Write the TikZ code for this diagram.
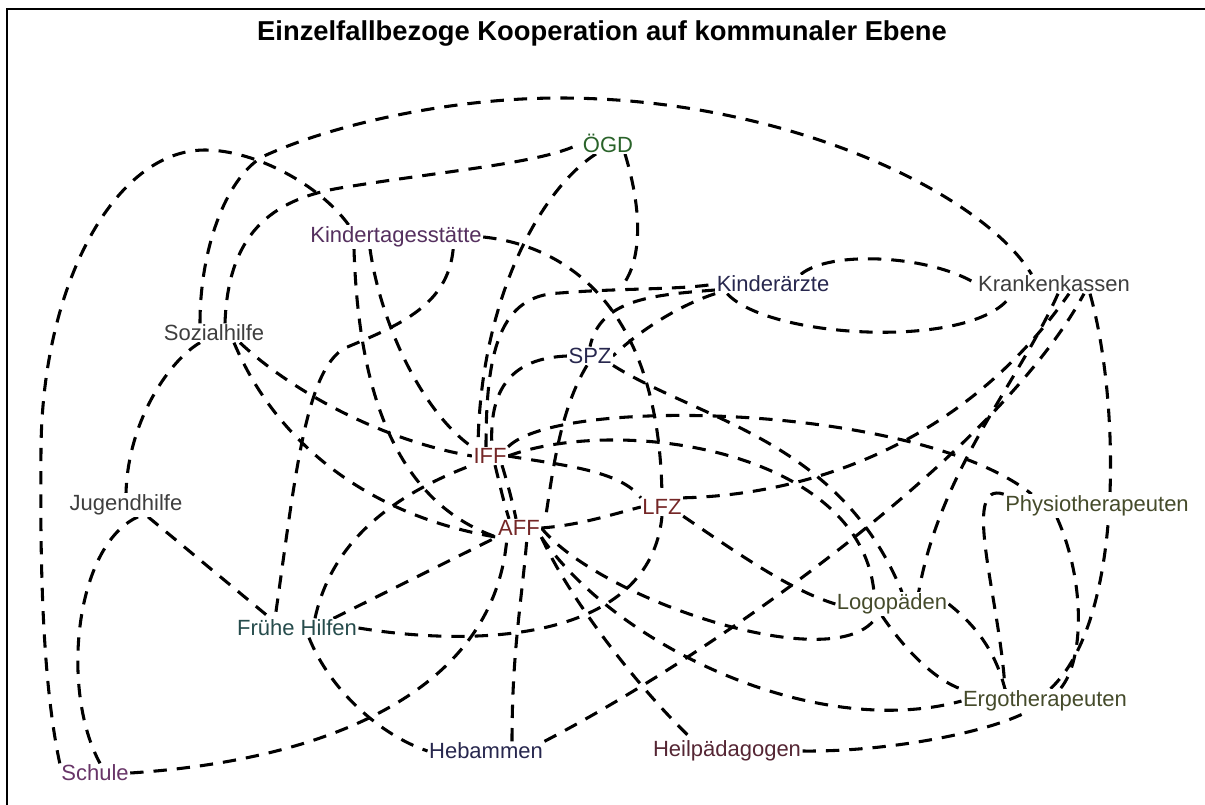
\documentclass[tikz,border=0pt]{standalone}
\usepackage{fontspec}
\setmainfont{Liberation Sans}
\usetikzlibrary{backgrounds,calc}
\definecolor{cgreen}{HTML}{2A632A}
\definecolor{cpurple}{HTML}{55305F}
\definecolor{cnavy}{HTML}{27274E}
\definecolor{cgray}{HTML}{3E3E3E}
\definecolor{cred}{HTML}{742626}
\definecolor{colive}{HTML}{454B2B}
\definecolor{cteal}{HTML}{264C4C}
\definecolor{cheil}{HTML}{552634}
\definecolor{cschule}{HTML}{683568}
\begin{document}
\begin{tikzpicture}[x=0.75pt,y=-0.75pt,
  lbl/.style={inner sep=1pt, fill=white, font=\fontsize{16.5}{18}\selectfont},
  con/.style={line width=2.3pt, dash pattern=on 10pt off 7.5pt},
  frame/.style={line width=2pt}]
\useasboundingbox (0,0) rectangle (1205,805);
\draw[frame] (7,805) -- (7,9) -- (1205,9);
\node[font=\bfseries\fontsize{20.5}{24}\selectfont] (title) at (602,33) {Einzelfallbezoge Kooperation auf kommunaler Ebene};
% labels
\node[lbl,text=cgreen]  (OGD)    at (608,143) {ÖGD};
\node[lbl,text=cpurple] (Kita)   at (396,237) {Kindertagesstätte};
\node[lbl,text=cnavy]   (Kind)   at (773,284) {Kinderärzte};
\node[lbl,text=cgray]   (KK)     at (1054,284) {Krankenkassen};
\node[lbl,text=cgray]   (Soz)    at (214,333) {Sozialhilfe};
\node[lbl,text=cnavy]   (SPZ)    at (590,356) {SPZ};
\node[lbl,text=cred]    (IFF)    at (490,456) {IFF};
\node[lbl,text=cgray]   (Jug)    at (126,505) {Jugendhilfe};
\node[lbl,text=cred]    (LFZ)    at (662,507) {LFZ};
\node[lbl,text=cred]    (AFF)    at (519,528) {AFF};
\node[lbl,text=colive]  (Physio) at (1097,506) {Physiotherapeuten};
\node[lbl,text=cteal]   (FH)     at (297,628) {Frühe Hilfen};
\node[lbl,text=colive]  (Logo)   at (892,604) {Logopäden};
\node[lbl,text=colive]  (Ergo)   at (1045,701) {Ergotherapeuten};
\node[lbl,text=cnavy]   (Heb)    at (486,751) {Hebammen};
\node[lbl,text=cheil]   (Heil)   at (727,751) {Heilpädagogen};
\node[lbl,text=cschule] (Schule) at (95,773) {Schule};
\coordinate (j1) at (622,286);
\begin{scope}[on background layer]
% outer left arc
\draw[con] (Schule.north west) .. controls (42,680) and (40,560) .. (41,450) .. controls (42,284) and (115,150) .. (205,150) .. controls (255,150) and (320,185) .. ($(Kita.north west)+(40,0)$);
% top arc
\draw[con] ($(Soz.north)+(-14,0)$) .. controls (200,250) and (225,180) .. (262,157) .. controls (330,125) and (450,98) .. (560,98) .. controls (780,98) and (980,190) .. ($(KK.north west)+(55,0)$);
\draw[con] ($(Soz.north)+(11,0)$) .. controls (228,235) and (270,200) .. (340,188) .. controls (450,170) and (545,163) .. (OGD.west);
\draw[con] ($(Soz.south)+(-14,0)$) .. controls (170,360) and (128,420) .. (Jug.north);
\draw[con] ($(Jug.south)+(12,0)$) .. controls (75,545) and (60,690) .. ($(Schule.north)+(5,0)$);
\draw[con] ($(Jug.south)+(22,0)$) -- ($(FH.north west)+(35,0)$);
\draw[con] ($(Soz.south)+(26,0)$) .. controls (290,390) and (380,440) .. (IFF.west);
\draw[con] ($(Soz.south)+(20,0)$) .. controls (275,440) and (365,515) .. (AFF.south west);
\draw[con] ($(Kita.south)+(-26,0)$) .. controls (380,320) and (420,410) .. (IFF.north west);
\draw[con] ($(Kita.south)+(-42,0)$) .. controls (358,380) and (390,500) .. (AFF.south west);
\draw[con] ($(Kita.south east)+(-30,0)$) .. controls (448,305) and (400,325) .. (345,348) .. controls (305,370) and (295,480) .. ($(FH.north)+(-22,0)$);
\draw[con] ($(FH.north)+(18,0)$) .. controls (330,550) and (380,500) .. (IFF.south west);
\draw[con] ($(FH.north east)+(-25,0)$) -- (AFF.south west);
\draw[con] (FH.east) .. controls (480,648) and (650,640) .. (LFZ.south);
\draw[con] ($(FH.south)+(12,0)$) .. controls (330,690) and (380,735) .. (Heb.west);
\draw[con] (Schule.east) .. controls (330,760) and (495,690) .. ($(AFF.south)+(-12,0)$);
\draw[con] ($(Heb.north)+(26,0)$) .. controls (512,650) and (522,600) .. ($(AFF.south)+(8,0)$);
\draw[con] (Heb.north east) .. controls (720,650) and (1000,450) .. ($(KK.south)+(30,0)$);
\draw[con] (Heil.east) .. controls (880,752) and (980,735) .. ($(Ergo.south)+(-20,0)$);
\draw[con] (AFF.south east) .. controls (570,600) and (640,690) .. ($(Heil.north)+(-35,0)$);
\draw[con] (AFF.east) .. controls (600,600) and (840,680) .. ($(Logo.south)+(-15,0)$);
\draw[con] (AFF.south east) .. controls (620,650) and (820,740) .. (Ergo.west);
\draw[con] (LFZ.south east) .. controls (740,555) and (790,590) .. (Logo.west);
\draw[con] (AFF.east) .. controls (580,525) and (610,515) .. (LFZ.west);
\draw[con] ($(IFF.south)+(5,0)$) .. controls (500,485) and (503,500) .. ($(AFF.north)+(-10,0)$);
\draw[con] ($(IFF.south)+(12,0)$) .. controls (508,485) and (512,500) .. ($(AFF.north)+(-3,0)$);
\draw[con] (IFF.east) .. controls (560,465) and (620,470) .. (LFZ.north west);
\draw[con] (IFF.north east) .. controls (560,395) and (920,405) .. ($(Physio.north west)+(28,0)$);
\draw[con] (IFF.east) .. controls (620,415) and (860,450) .. ($(Logo.north)+(-18,0)$);
\draw[con] (LFZ.north east) .. controls (800,495) and (960,450) .. ($(KK.south)+(15,0)$);
\draw[con] (SPZ.west) .. controls (520,358) and (488,380) .. ($(IFF.north)+(2,0)$);
\draw[con] ($(OGD.south)+(-12,0)$) .. controls (540,190) and (480,300) .. ($(IFF.north)+(-12,0)$);
\draw[con] ($(OGD.south)+(17,0)$) .. controls (648,230) and (635,270) .. (j1);
\draw[con] ($(IFF.north)+(-4,0)$) .. controls (486,350) and (500,295) .. (560,293) .. controls (620,288) and (680,290) .. (Kind.west);
\draw[con] (Kita.east) .. controls (560,245) and (660,300) .. (LFZ.north);
\draw[con] (Kind.south west) .. controls (680,305) and (640,330) .. (SPZ.east);
\draw[con] ($(Kind.west)+(0,6)$) .. controls (650,295) and (600,300) .. (SPZ.north);
\draw[con] ($(SPZ.south)+(-3,0)$) .. controls (560,410) and (553,470) .. ($(AFF.north east)+(4,0)$);
\draw[con] (SPZ.south east) .. controls (700,420) and (840,440) .. ($(Logo.north)+(10,0)$);
\draw[con] ($(Kind.north east)+(-30,0)$) .. controls (830,250) and (930,255) .. (KK.west);
\draw[con] ($(Kind.south west)+(12,0)$) .. controls (770,340) and (980,350) .. ($(KK.south)+(-42,0)$);
\draw[con] ($(KK.south)+(36,0)$) .. controls (1120,400) and (1125,620) .. ($(Ergo.north)+(5,0)$);
\draw[con] ($(Physio.south)+(-40,0)$) .. controls (1085,580) and (1085,660) .. ($(Ergo.north)+(15,0)$);
\draw[con] (Physio.north west) .. controls (960,480) and (1000,600) .. ($(Ergo.north)+(-40,0)$);
\draw[con] (Logo.east) .. controls (975,625) and (995,650) .. ($(Ergo.north)+(-40,0)$);
\draw[con] ($(Logo.south)+(-10,0)$) .. controls (905,650) and (935,680) .. (Ergo.north west);
\draw[con] ($(KK.south)+(4,0)$) .. controls (1020,380) and (940,470) .. ($(Logo.north east)+(-30,0)$);
\end{scope}
\end{tikzpicture}
\end{document}
